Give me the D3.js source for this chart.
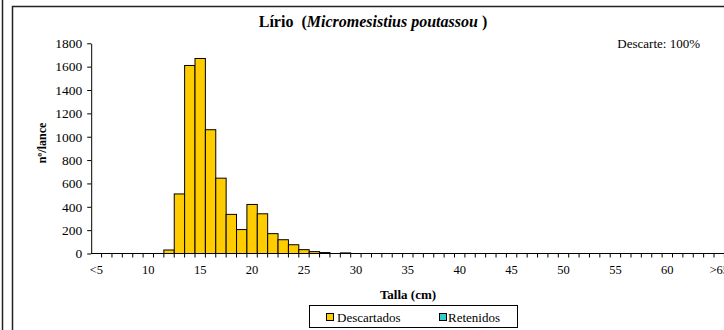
<!DOCTYPE html>
<html>
<head>
<meta charset="utf-8">
<script src="https://cdn.jsdelivr.net/npm/d3@7/dist/d3.min.js"></script>
<style>
  html, body { margin: 0; padding: 0; background: #fff; }
  svg { display: block; }
  svg text { font-family: "Liberation Serif", "Times New Roman", serif; fill: #000; }
</style>
</head>
<body>
<svg id="chart" width="724" height="330"></svg>
<script>
// Length classes (cm): "<5", 6 … 64, ">65"
const categories = ["<5"].concat(d3.range(6, 65).map(String), [">65"]);

// Discarded fish per haul by length class (12 … 29 cm, rest zero)
const descartadosByLength = [
  [12, 30], [13, 510], [14, 1610], [15, 1670], [16, 1060], [17, 645],
  [18, 335], [19, 205], [20, 420], [21, 340], [22, 170], [23, 118],
  [24, 75], [25, 33], [26, 16], [27, 8], [29, 5]
];
const descartados = categories.map(c => {
  const hit = descartadosByLength.find(d => String(d[0]) === c);
  return hit ? hit[1] : 0;
});
// Retained fish per haul: none
const retenidos = categories.map(() => 0);

const yTicks = [0, 200, 400, 600, 800, 1000, 1200, 1400, 1600, 1800];
const xLabelCats = categories.filter((c, i) => i % 5 === 0);

const svg = d3.select("#chart");

// Page frame lines
svg.append("line").attr("x1", 2.5).attr("x2", 2.5).attr("y1", 0).attr("y2", 330)
  .attr("stroke", "#222").attr("stroke-width", 1.5);
svg.append("rect").attr("x", 12.5).attr("y", 6.5).attr("width", 740).attr("height", 340)
  .attr("fill", "none").attr("stroke", "#222").attr("stroke-width", 1.5);

const x = d3.scaleBand().domain(categories).range([91.2, 724.4]).paddingInner(0).paddingOuter(0);
const y = d3.scaleLinear().domain([0, 1800]).range([253.5, 43.3]);

// Title
const title = svg.append("text").attr("x", 373).attr("y", 27)
  .attr("text-anchor", "middle").attr("font-size", 16).attr("font-weight", "bold");
title.append("tspan").text("Lírio\u00a0\u00a0(");
title.append("tspan").attr("font-style", "italic").text("Micromesistius poutassou");
title.append("tspan").text("\u00a0)");

svg.append("text").attr("x", 700).attr("y", 48).attr("text-anchor", "end")
  .attr("font-size", 13).text("Descarte: 100%");

// Bars
svg.append("g").selectAll("rect")
  .data(categories.map((c, i) => ({ c, v: descartados[i] })).filter(d => d.v > 0))
  .join("rect")
  .attr("x", d => x(d.c))
  .attr("y", d => y(d.v))
  .attr("width", x.bandwidth())
  .attr("height", d => y(0) - y(d.v))
  .attr("fill", "#FFCC00")
  .attr("stroke", "#000")
  .attr("stroke-width", 1);

// Y axis
const yAxis = svg.append("g").attr("transform", `translate(${x.range()[0]},0)`)
  .call(d3.axisLeft(y).tickValues(yTicks).tickFormat(d3.format("d"))
    .tickSize(4).tickSizeOuter(0).tickPadding(5));
yAxis.selectAll("text").attr("font-size", 13.5);
yAxis.selectAll("path, line").attr("stroke", "#000");

// X axis: line, boundary ticks, labels every 5 classes
const xg = svg.append("g").attr("transform", `translate(0,${y(0)})`);
xg.append("line").attr("x1", x.range()[0]).attr("x2", x.range()[1])
  .attr("stroke", "#000").attr("stroke-width", 1.2);
xg.selectAll("line.tick")
  .data(categories.slice(1).map(c => x(c)).concat([x.range()[1]]))
  .join("line").attr("class", "tick")
  .attr("x1", d => d).attr("x2", d => d).attr("y1", 0).attr("y2", 4)
  .attr("stroke", "#000");
const xAxis = svg.append("g").attr("transform", `translate(0,${y(0)})`)
  .call(d3.axisBottom(x).tickValues(xLabelCats).tickSize(0).tickPadding(12));
xAxis.select(".domain").remove();
xAxis.selectAll("text").attr("font-size", 12.5);

// Axis titles
svg.append("text").attr("x", 408).attr("y", 299).attr("text-anchor", "middle")
  .attr("font-size", 13).attr("font-weight", "bold").text("Talla (cm)");
svg.append("text").attr("transform", "translate(46,143) rotate(-90)")
  .attr("text-anchor", "middle").attr("font-size", 12).attr("font-weight", "bold").text("nº/lance");

// Legend
const legend = svg.append("g");
legend.append("rect").attr("x", 309.5).attr("y", 305.5).attr("width", 208).attr("height", 22)
  .attr("fill", "#fff").attr("stroke", "#000").attr("stroke-width", 1);
const items = [
  { name: "Descartados", color: "#FFCC00", sx: 326, tx: 337 },
  { name: "Retenidos", color: "#33CCCC", sx: 439, tx: 448 }
];
items.forEach(it => {
  legend.append("rect").attr("x", it.sx + 0.5).attr("y", 313.5).attr("width", 7).attr("height", 7)
    .attr("fill", it.color).attr("stroke", "#000");
  legend.append("text").attr("x", it.tx).attr("y", 321.5).attr("font-size", 13).text(it.name);
});
</script>
</body>
</html>
